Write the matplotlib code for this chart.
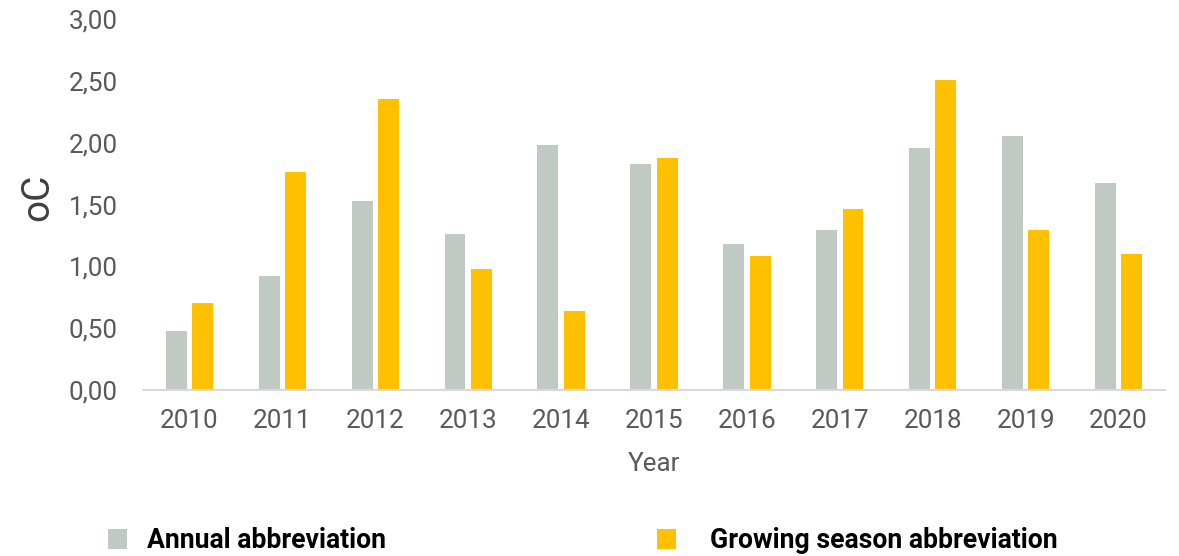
import matplotlib
matplotlib.use("Agg")
import matplotlib.pyplot as plt
import numpy as np
from matplotlib.patches import Patch

years = ["2010", "2011", "2012", "2013", "2014", "2015", "2016", "2017", "2018", "2019", "2020"]
annual = [0.48, 0.92, 1.53, 1.26, 1.98, 1.83, 1.18, 1.29, 1.96, 2.05, 1.67]
growing = [0.70, 1.76, 2.35, 0.98, 0.64, 1.88, 1.08, 1.46, 2.51, 1.29, 1.10]
yticks = [0.0, 0.5, 1.0, 1.5, 2.0, 2.5, 3.0]
ytick_labels = ["0,00", "0,50", "1,00", "1,50", "2,00", "2,50", "3,00"]
series_names = ["Annual abbreviation", "Growing season abbreviation"]

plt.rcParams['font.family'] = ['Roboto', 'DejaVu Sans']

fig = plt.figure(figsize=(11.79, 5.56), dpi=100)
ax = fig.add_axes([143/1179, 1-390/556, (1165-143)/1179, (390-19)/556])

x = np.arange(len(years))
w = 0.225
off = 0.142
grey = "#C1CAC2"
yellow = "#FFC000"
ax.bar(x - off, annual, width=w, color=grey, label=series_names[0])
ax.bar(x + off, growing, width=w, color=yellow, label=series_names[1])

ax.set_xlim(-0.5, len(years) - 0.5)
ax.set_ylim(0, 3.0)
ax.set_yticks(yticks)
ax.set_yticklabels(ytick_labels)
ax.set_xticks(x)
ax.set_xticklabels(years)

for s in ["top", "right", "left"]:
    ax.spines[s].set_visible(False)
ax.spines["bottom"].set_color("#D9D9D9")
ax.spines["bottom"].set_linewidth(1.5)

ax.tick_params(axis="y", length=0, pad=18, labelsize=18.7, labelcolor="#595959")
ax.tick_params(axis="x", length=0, pad=14, labelsize=18.7, labelcolor="#595959")

ax.set_ylabel("oC", fontsize=28, color="#404040")
ax.yaxis.set_label_coords(-0.085, 0.52)
ax.set_xlabel("Year", fontsize=18.7, color="#595959")
ax.xaxis.set_label_coords(0.5, -0.168)

common = dict(loc="center left", frameon=False, handlelength=0.71, handleheight=0.75,
              borderaxespad=0, borderpad=0, prop={"weight": "bold", "size": 19.2})
leg1 = fig.legend([Patch(facecolor=grey)], [series_names[0]],
                  bbox_to_anchor=(108/1179, 1-541/556), handletextpad=0.75, **common)
leg2 = fig.legend([Patch(facecolor=yellow)], [series_names[1]],
                  bbox_to_anchor=(657/1179, 1-541/556), handletextpad=1.27, **common)

fig.savefig("out.png", dpi=100)
